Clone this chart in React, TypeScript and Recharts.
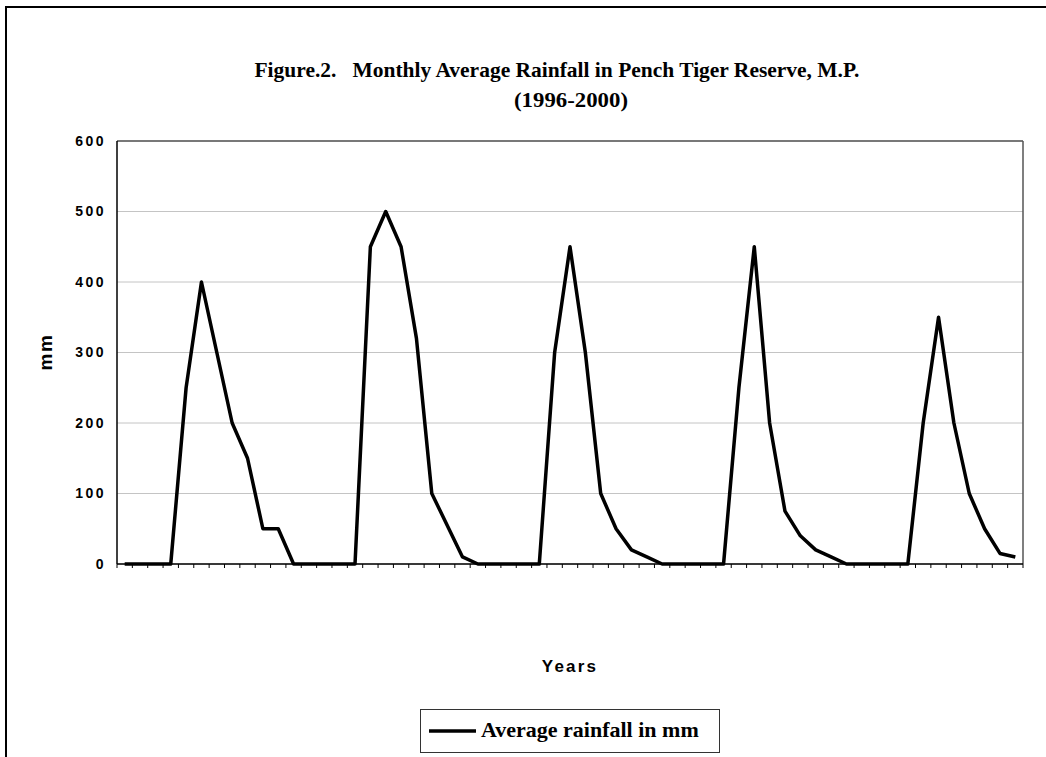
import React from 'react';
import { LineChart, Line, XAxis, YAxis, CartesianGrid, ReferenceLine, Legend } from 'recharts';

// Monthly average rainfall (mm), 59 consecutive months, 1996-2000
const rainfall: number[] = [
  0, 0, 0, 0, 250, 400, 300, 200, 150, 50, 50, 0,
  0, 0, 0, 0, 450, 500, 450, 320, 100, 55, 10, 0,
  0, 0, 0, 0, 300, 450, 300, 100, 50, 20, 10, 0,
  0, 0, 0, 0, 250, 450, 200, 75, 40, 20, 10, 0,
  0, 0, 0, 0, 200, 350, 200, 100, 50, 15, 10,
];

const years: string[] = ['1996', '1997', '1998', '1999', '2000'];
const monthNames: string[] = ['Jan', 'Feb', 'Mar', 'Apr', 'May', 'Jun', 'Jul', 'Aug', 'Sep', 'Oct', 'Nov', 'Dec'];
const yTicks: number[] = [0, 100, 200, 300, 400, 500, 600];

const seriesName = 'Average rainfall in mm';
const titleLine1 = 'Figure.2.   Monthly Average Rainfall in Pench Tiger Reserve, M.P.';
const titleLine2 = '(1996-2000)';
const xTitle = 'Years';
const yTitle = 'mm';

const data = rainfall.map((v, i) => ({
  x: i,
  month: `${monthNames[i % 12]} ${years[Math.floor(i / 12)]}`,
  rain: v,
}));

const n = rainfall.length;
const boundaries: number[] = Array.from({ length: n + 1 }, (_, i) => i - 0.5);

const sans = '"Liberation Sans", Arial, Helvetica, sans-serif';
const serif = '"Liberation Serif", "Times New Roman", Times, serif';

const YTick = (props: any) => {
  const { x, y, payload } = props;
  return (
    <text
      x={x + 3}
      y={y}
      dy="0.355em"
      textAnchor="end"
      fontFamily={sans}
      fontWeight="bold"
      fontSize={14}
      letterSpacing={2.5}
      fill="#000"
    >
      {payload.value}
    </text>
  );
};

const LegendBox = () => (
  <div
    style={{
      width: 298,
      height: 42,
      border: '1px solid #333',
      background: '#fff',
      position: 'relative',
      boxSizing: 'content-box',
    }}
  >
    <svg width={298} height={42} style={{ position: 'absolute', left: 0, top: 0 }}>
      <line x1={8} x2={55} y1={21} y2={21} stroke="#000" strokeWidth={3.5} />
      <text x={60} y={27} fontFamily={serif} fontWeight="bold" fontSize={22} fill="#000">
        {seriesName}
      </text>
    </svg>
  </div>
);

export default function App() {
  return (
    <div style={{ position: 'absolute', left: 0, top: 0, width: 1046, height: 757, overflow: 'hidden', background: '#fff' }}>
      <div
        style={{
          position: 'absolute',
          left: 5,
          top: 6,
          width: 1100,
          height: 800,
          borderLeft: '2px solid #000',
          borderTop: '2px solid #000',
        }}
      />
      <LineChart
        width={1046}
        height={757}
        data={data}
        margin={{ top: 141, right: 23, bottom: 163, left: 57 }}
        style={{ position: 'absolute', left: 0, top: 0 }}
      >
        <CartesianGrid vertical={false} stroke="#c4c4c4" strokeWidth={1} />
        <XAxis
          type="number"
          dataKey="x"
          domain={[-0.5, n - 0.5]}
          ticks={boundaries}
          interval={0}
          tickFormatter={() => ''}
          tickSize={4}
          tickLine={{ stroke: '#000' }}
          axisLine={{ stroke: '#000', strokeWidth: 1.5 }}
          height={30}
          allowDataOverflow
        />
        <YAxis
          type="number"
          domain={[0, 600]}
          ticks={yTicks}
          interval={0}
          tickLine={false}
          tickSize={6}
          tickMargin={8}
          axisLine={{ stroke: '#000', strokeWidth: 1.5 }}
          tick={<YTick />}
          width={60}
        />
        <ReferenceLine y={600} stroke="#555" strokeWidth={1.5} />
        <ReferenceLine x={n - 0.5} stroke="#555" strokeWidth={1.5} />
        <Line
          type="linear"
          dataKey="rain"
          name={seriesName}
          stroke="#000"
          strokeWidth={3.5}
          strokeLinejoin="round"
          dot={false}
          activeDot={false}
          isAnimationActive={false}
        />
        <Legend
          layout="horizontal"
          verticalAlign="middle"
          align="center"
          content={<LegendBox />}
          wrapperStyle={{ position: 'absolute', left: 420, top: 709, width: 300, height: 44 }}
        />
        <text x={557} y={77} textAnchor="middle" fontFamily={serif} fontWeight="bold" fontSize={22} fill="#000" style={{ whiteSpace: 'pre' }} textLength={605} lengthAdjust="spacingAndGlyphs">
          {titleLine1}
        </text>
        <text x={571} y={107} textAnchor="middle" fontFamily={serif} fontWeight="bold" fontSize={22} fill="#000" textLength={114} lengthAdjust="spacingAndGlyphs">
          {titleLine2}
        </text>
        <text x={570} y={672} textAnchor="middle" fontFamily={sans} fontWeight="bold" fontSize={17} letterSpacing={2.2} fill="#000">
          {xTitle}
        </text>
        <text
          x={45}
          y={352}
          textAnchor="middle"
          dominantBaseline="central"
          transform="rotate(-90 45 352)"
          fontFamily={sans}
          fontWeight="bold"
          fontSize={19}
          letterSpacing={1.5}
          fill="#000"
        >
          {yTitle}
        </text>
      </LineChart>
    </div>
  );
}
